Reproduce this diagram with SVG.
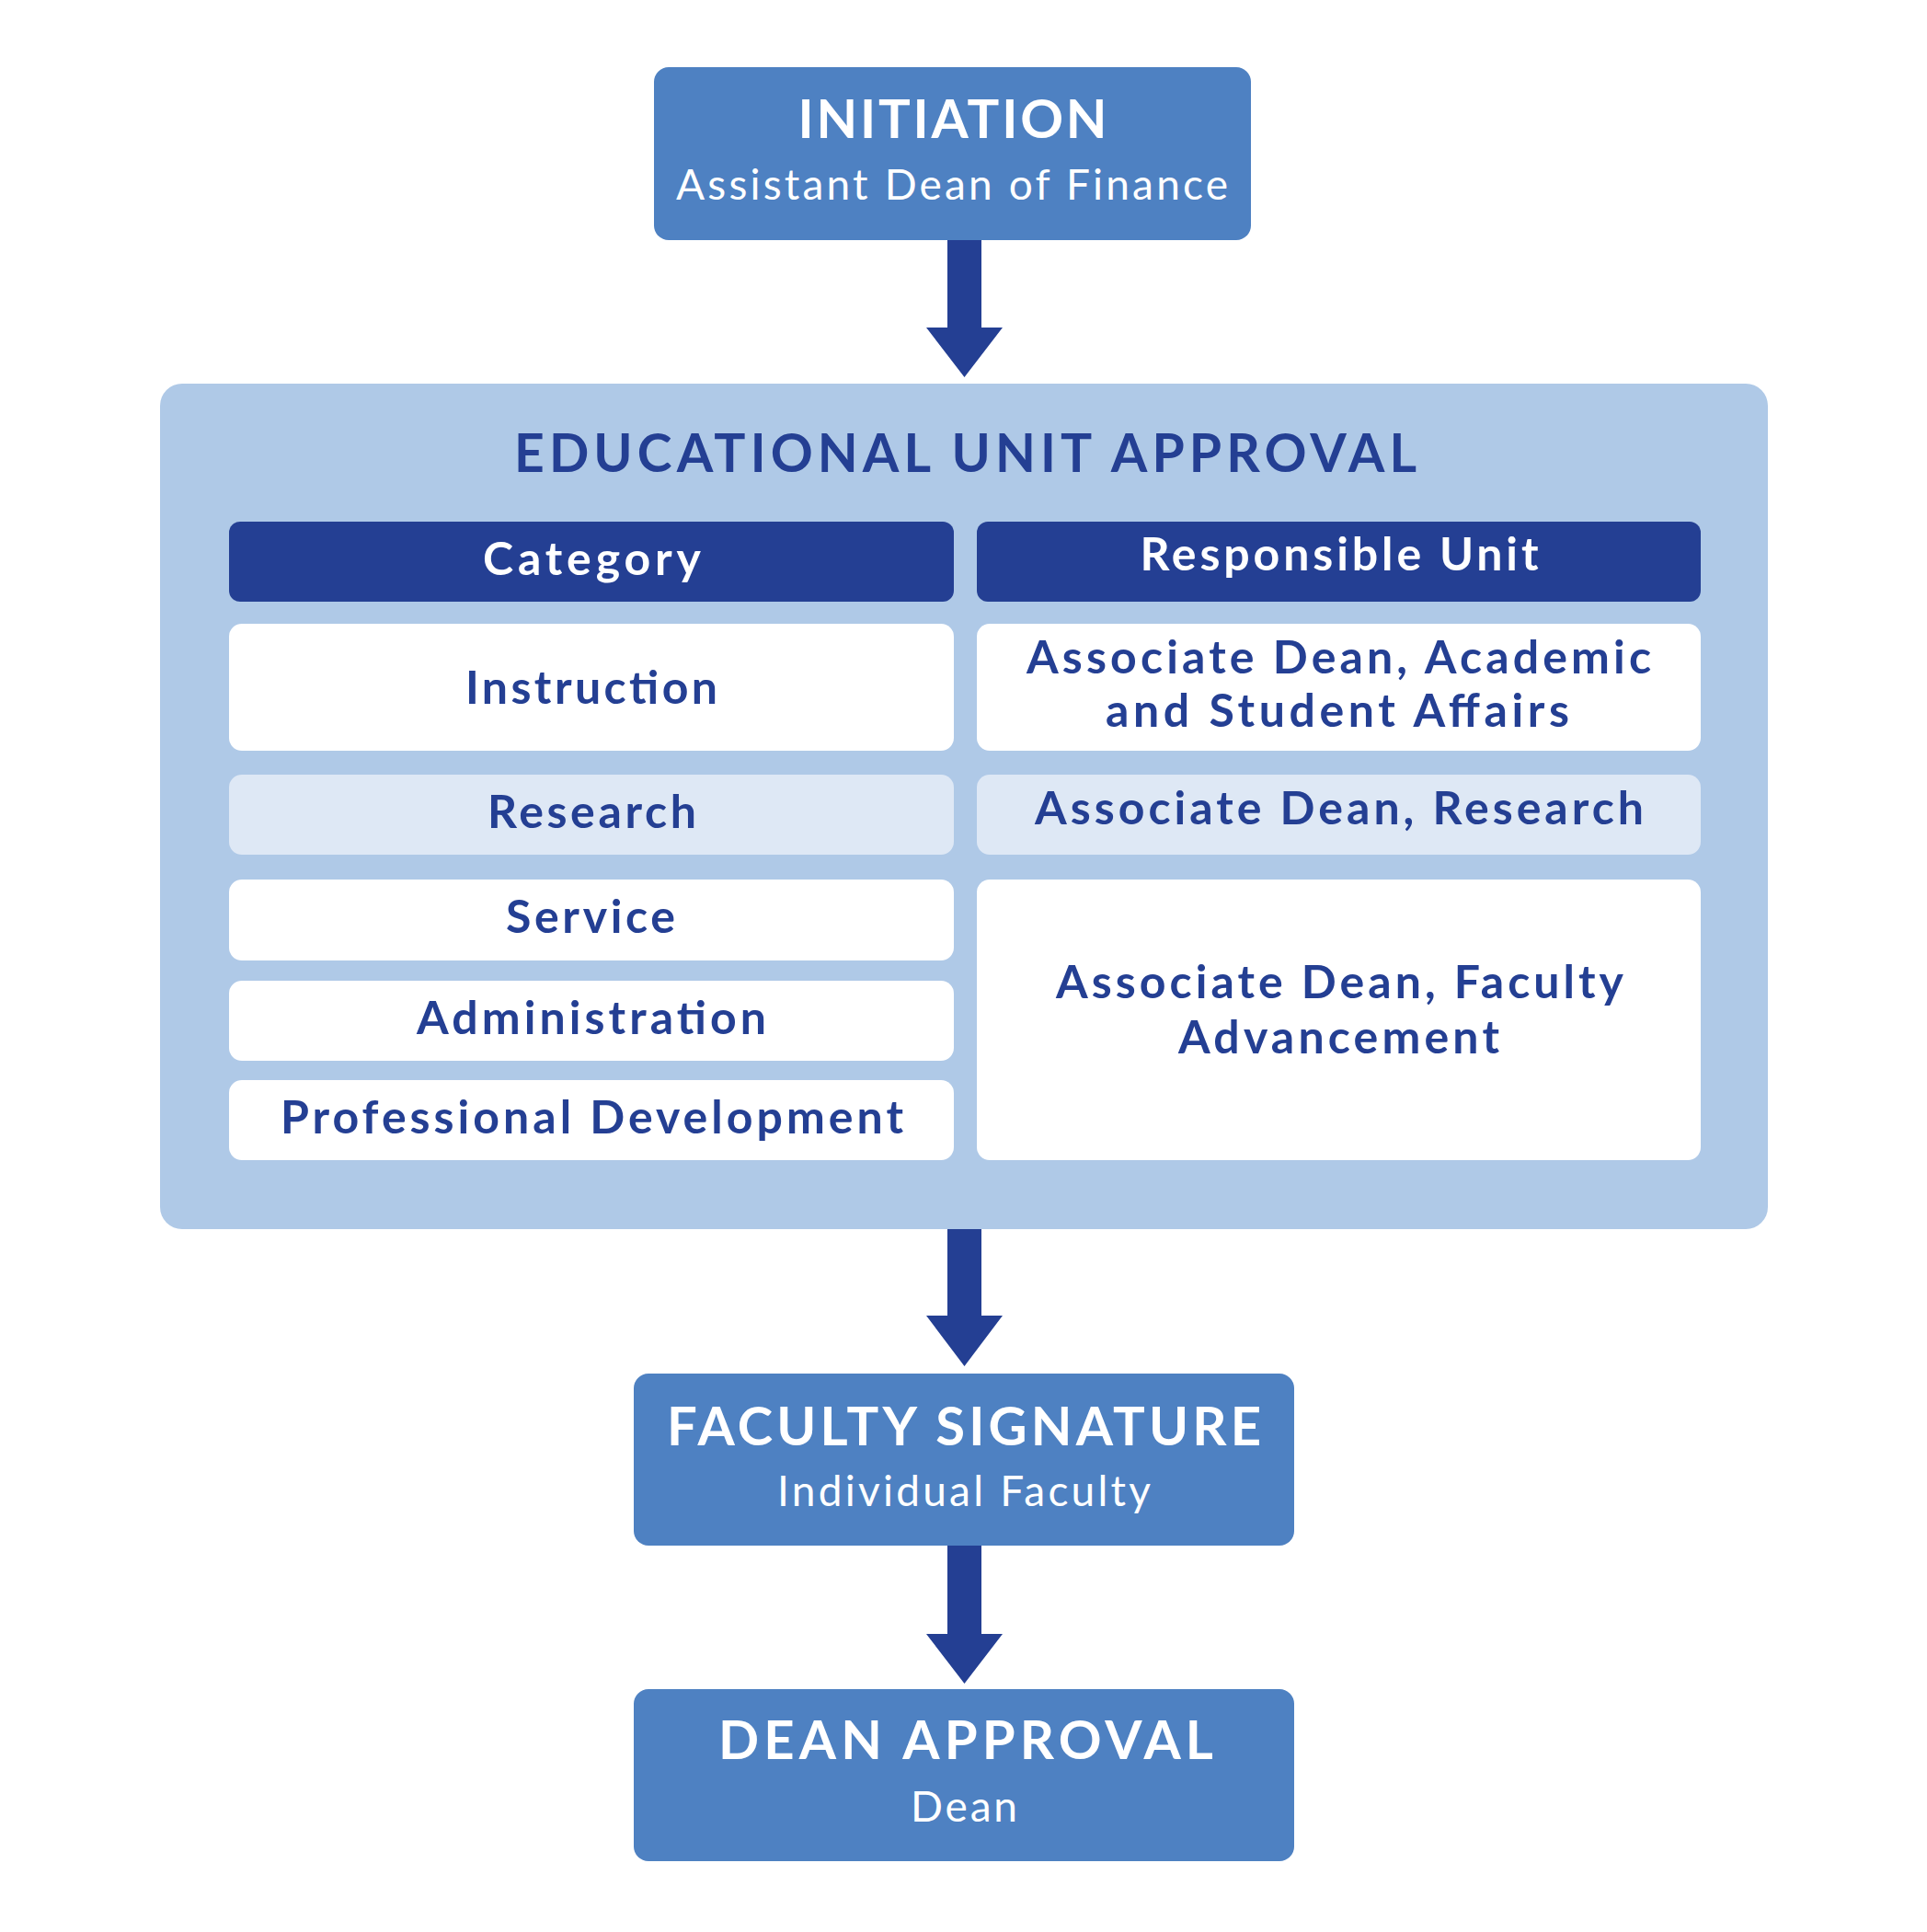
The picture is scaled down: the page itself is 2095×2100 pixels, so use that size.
<svg xmlns="http://www.w3.org/2000/svg" width="2095" height="2100" viewBox="0 0 2095 2100">
<style>
.step{fill:#4E81C2}
.t1{font-family:Lato,"Noto Sans","Liberation Sans",sans-serif;font-weight:700;font-size:58px;fill:#ffffff;text-anchor:middle}
.t2{font-family:Lato,"Noto Sans","Liberation Sans",sans-serif;font-weight:400;font-size:46px;fill:#ffffff;text-anchor:middle}
.cont{fill:#AFC9E7}
.hdr{fill:#243F93}
.cell{fill:#ffffff}
.cellL{fill:#DEE8F5}
.ttl{font-family:Lato,"Noto Sans","Liberation Sans",sans-serif;font-weight:700;font-size:57px;fill:#243F93;text-anchor:middle}
.th{font-family:Lato,"Noto Sans","Liberation Sans",sans-serif;font-weight:700;font-size:50px;fill:#ffffff;text-anchor:middle}
.td{font-family:Lato,"Noto Sans","Liberation Sans",sans-serif;font-weight:700;font-size:50px;fill:#243F93;text-anchor:middle}
.arr{fill:#243F93}
</style>
<rect width="2095" height="2100" fill="#ffffff"/>
<g id="connectors">
<polygon class="arr" points="1030,258 1067,258 1067,356 1090,356 1048.5,410 1007,356 1030,356"/>
<polygon class="arr" points="1030,1333 1067,1333 1067,1430 1090,1430 1048.5,1485 1007,1430 1030,1430"/>
<polygon class="arr" points="1030,1677 1067,1677 1067,1776 1090,1776 1048.5,1830 1007,1776 1030,1776"/>
</g>
<g id="initiation">
<rect class="step" x="711" y="73" width="649" height="188" rx="16"/>
<text class="t1" x="1035.5" y="150" textLength="336" lengthAdjust="spacing">INITIATION</text>
<text class="t2" x="1035" y="217" textLength="600" lengthAdjust="spacing">Assistant Dean of Finance</text>
</g>
<g id="educational-unit-approval">
<rect class="cont" x="174" y="417" width="1748" height="919" rx="24"/>
<text class="ttl" x="1049.5" y="513" textLength="981" lengthAdjust="spacing">EDUCATIONAL UNIT APPROVAL</text>
<g id="header-category">
<rect class="hdr" x="249" y="567" width="788" height="87" rx="12"/>
<text class="th" x="643.5" y="625" textLength="237" lengthAdjust="spacing">Category</text>
</g>
<g id="header-responsible">
<rect class="hdr" x="1062" y="567" width="787" height="87" rx="12"/>
<text class="th" x="1456" y="620" textLength="433" lengthAdjust="spacing">Responsible Unit</text>
</g>
<g id="cat-instruction">
<rect class="cell" x="249" y="678" width="788" height="138" rx="14"/>
<text class="td" x="643" y="765" textLength="274" lengthAdjust="spacing">Instruction</text>
</g>
<g id="unit-academic">
<rect class="cell" x="1062" y="678" width="787" height="138" rx="14"/>
<text class="td" x="1455.5" y="732" textLength="679" lengthAdjust="spacing">Associate Dean, Academic</text>
<text class="td" x="1454" y="790" textLength="504" lengthAdjust="spacing">and Student Affairs</text>
</g>
<g id="cat-research">
<rect class="cellL" x="249" y="842" width="788" height="87" rx="14"/>
<text class="td" x="643.5" y="900" textLength="227" lengthAdjust="spacing">Research</text>
</g>
<g id="unit-research">
<rect class="cellL" x="1062" y="842" width="787" height="87" rx="14"/>
<text class="td" x="1456" y="896" textLength="662" lengthAdjust="spacing">Associate Dean, Research</text>
</g>
<g id="cat-service">
<rect class="cell" x="249" y="956" width="788" height="88" rx="14"/>
<text class="td" x="642" y="1014" textLength="184" lengthAdjust="spacing">Service</text>
</g>
<g id="cat-administration">
<rect class="cell" x="249" y="1066" width="788" height="87" rx="14"/>
<text class="td" x="643" y="1124" textLength="380" lengthAdjust="spacing">Administration</text>
</g>
<g id="cat-professional-development">
<rect class="cell" x="249" y="1174" width="788" height="87" rx="14"/>
<text class="td" x="643.5" y="1232" textLength="677" lengthAdjust="spacing">Professional Development</text>
</g>
<g id="unit-faculty">
<rect class="cell" x="1062" y="956" width="787" height="305" rx="14"/>
<text class="td" x="1456.5" y="1085" textLength="617" lengthAdjust="spacing">Associate Dean, Faculty</text>
<text class="td" x="1455.5" y="1145" textLength="349" lengthAdjust="spacing">Advancement</text>
</g>
</g>
<g id="faculty-signature">
<rect class="step" x="689" y="1493" width="718" height="187" rx="16"/>
<text class="t1" x="1048" y="1571" textLength="646" lengthAdjust="spacing">FACULTY SIGNATURE</text>
<text class="t2" x="1048" y="1637" textLength="406" lengthAdjust="spacing">Individual Faculty</text>
</g>
<g id="dean-approval">
<rect class="step" x="689" y="1836" width="718" height="187" rx="16"/>
<text class="t1" x="1050" y="1912" textLength="538" lengthAdjust="spacing">DEAN APPROVAL</text>
<text class="t2" x="1048" y="1980" textLength="116" lengthAdjust="spacing">Dean</text>
</g>
</svg>
